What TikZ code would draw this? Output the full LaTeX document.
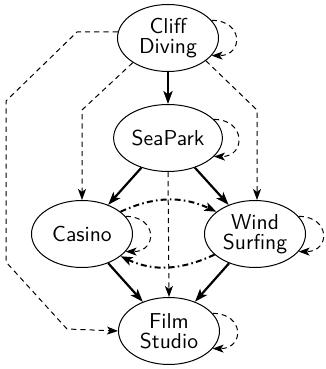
\documentclass[tikz,border=0pt]{standalone}
\usepackage{tikz}
\usetikzlibrary{arrows.meta,shapes.geometric,calc}
\definecolor{ink}{HTML}{000000}
\tikzset{
  every picture/.style={line join=round},
  place/.style={ellipse, draw=ink, line width=0.5pt, minimum width=50.5pt,
    minimum height=33.5pt, inner sep=1pt, align=center,
    font=\sffamily\fontsize{10.8}{10}\selectfont},
  strongarr/.style={-{Stealth[length=6.5pt,width=4.6pt,inset=1.6pt]}, draw=ink, line width=1.1pt},
  weakarr/.style={-{Stealth[length=5.5pt,width=4pt,inset=1.4pt]}, draw=ink, line width=0.5pt,
    dash pattern=on 2.6pt off 2pt},
  swaparr/.style={-{Stealth[length=6pt,width=4.4pt,inset=1.5pt]}, draw=ink, line width=1pt,
    dash pattern=on 3pt off 1.6pt on 0.8pt off 1.6pt},
  selfloop/.style={weakarr, out=0, in=0, distance=16pt},
}
\begin{document}
\begin{tikzpicture}[x=0.5pt,y=0.5pt]
  \useasboundingbox (0,0) rectangle (326,369);
  % ---------------- places ----------------
  \node[place] (cd) at (168,331) {Cliff\\Diving};
  \node[place] (sp) at (168,231) {SeaPark};
  \node[place] (ca) at (82,135) {Casino};
  \node[place] (ws) at (255,135) {Wind\\Surfing};
  \node[place] (fs) at (169,38) {Film\\Studio};
  % ---------------- main flow ----------------
  \draw[strongarr] (cd) -- (sp);
  \draw[strongarr] (sp) -- (ca);
  \draw[strongarr] (sp) -- (ws);
  \draw[strongarr] (ca) -- (fs);
  \draw[strongarr] (ws) -- (fs);
  % ---------------- weak links ----------------
  \draw[weakarr] (cd.215) -- ($(ca.north)+(0,90)$) -- (ca.north);
  \draw[weakarr] (cd.-31) -- ($(ws.north)+(2,90)$) -- ($(ws.north)+(2,0)$);
  \draw[weakarr] (sp.south) -- (fs.north);
  \draw[weakarr] (cd.173) -- (77,337) -- (6,268) -- (6,107) -- (67,40) -- (fs.west);
  % casino <-> wind surfing
  \draw[swaparr] (ca.30) to[out=25,in=155] (ws.150);
  \draw[swaparr] (ws.207) to[out=-155,in=-25] (ca.-30);
  % self loops
  \foreach \p in {cd,sp,ca,ws,fs}{\draw[selfloop] (\p.22) to (\p.-22);}
\end{tikzpicture}
\end{document}
